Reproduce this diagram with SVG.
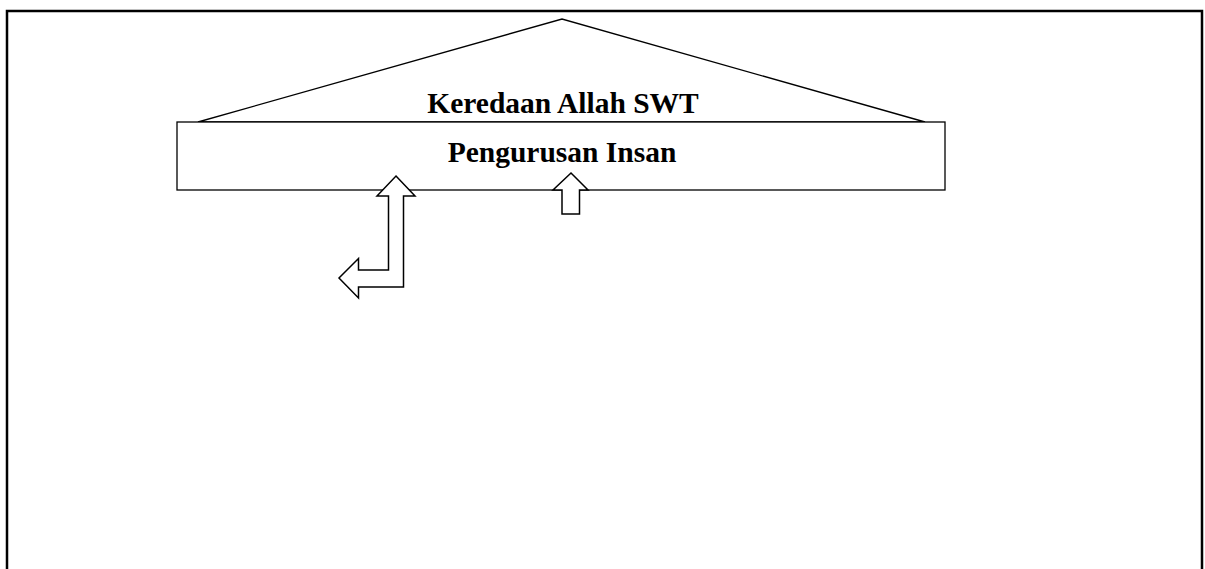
<svg xmlns="http://www.w3.org/2000/svg" width="1205" height="569" viewBox="0 0 1205 569">
<style>
.frame{fill:none;stroke:#000;stroke-width:2.5}
.shape{fill:#fff;stroke:#000;stroke-width:1.3}
.arrow{fill:#fff;stroke:#000;stroke-width:1.5;stroke-linejoin:miter}
.lbl{font-family:"Liberation Serif","Times New Roman",serif;font-weight:bold;font-size:29.5px;text-anchor:middle;fill:#000}
</style>
<rect width="1205" height="569" fill="#fff"/>
<path class="frame" d="M7,569 V11 H1202 V569"/>
<g id="roof">
<polygon class="shape" points="198,122 562,19 925,122"/>
<text class="lbl" x="563" y="113">Keredaan Allah SWT</text>
</g>
<g id="pengurusan-insan">
<rect class="shape" x="177" y="122" width="768" height="68"/>
<text class="lbl" x="562" y="162">Pengurusan Insan</text>
</g>
<g id="connectors">
<polygon class="arrow" points="571,173 588,190 579.5,190 579.5,214 562,214 562,190 553,190"/>
<polygon class="arrow" points="396,176 415,196 403.5,196 403.5,287 358.5,287 358.5,298 339,278 358.5,258.5 358.5,270 388.5,270 388.5,196 377,196"/>
</g>
</svg>
